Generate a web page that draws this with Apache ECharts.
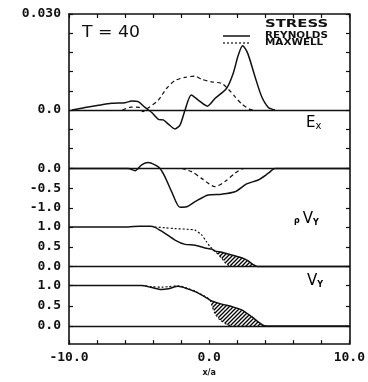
<!DOCTYPE html>
<html>
<head>
<meta charset="utf-8">
<script src="https://cdn.jsdelivr.net/npm/echarts@6/dist/echarts.min.js"></script>
<style>html,body{margin:0;padding:0;background:#fff}#c{width:368px;height:382px}</style>
</head>
<body>
<div id="c"></div>
<script>
// ---- data ----
const X_MIN = -10, X_MAX = 10;
const X_LABEL_VALUES = [-10, 0, 10];

const STRESS_REYNOLDS = [[-9.8,0],[-8.86,0.0008],[-7.9,0.0015],[-6.96,0.0021],[-6.0,0.0023],[-5.54,0.0028],[-5.07,0.0026],[-4.59,0.0008],[-4.11,-0.0008],[-3.64,-0.0029],[-3.29,-0.0031],[-2.93,-0.0044],[-2.46,-0.0059],[-2.1,-0.0047],[-1.74,0],[-1.3,0.0047],[-0.8,0.0031],[-0.15,0.0012],[0.39,0.0036],[1.22,0.0068],[1.69,0.0115],[2.05,0.0172],[2.36,0.0201],[2.72,0.0177],[3.24,0.0104],[3.71,0.0042],[4.19,0.0008],[4.66,0]];
const STRESS_MAXWELL = [[-6.2,0],[-5.6,0.0009],[-5.0,0.0008],[-4.75,-0.0005],[-4.36,0.0006],[-3.64,0.0031],[-3.05,0.0068],[-2.46,0.0092],[-1.74,0.0102],[-1.03,0.0106],[-0.56,0.0096],[0.16,0.0088],[0.87,0.0083],[1.34,0.0065],[1.81,0.0042],[2.29,0.0019],[2.88,0.0002],[3.2,0]];
const STRESS_TICKS = [-0.012,-0.006,0,0.006,0.012,0.018,0.024,0.03];
const STRESS_LABEL_VALUES = [0.03, 0];
const STRESS_LABELS = ['0.030', '0.0'];

const EX_SOLID = [[-10,0],[-5.78,0],[-5.3,-0.055],[-4.83,0.09],[-4.36,0.15],[-3.88,0.09],[-3.52,0],[-3.17,-0.21],[-2.69,-0.59],[-2.1,-0.98],[-1.63,-0.97],[-1.03,-0.84],[-0.09,-0.67],[0.87,-0.65],[1.81,-0.59],[2.64,-0.39],[3.47,-0.29],[4.19,-0.12],[4.66,0],[10,0]];
const EX_DASHED = [[-1.98,0],[-1.27,-0.08],[-0.56,-0.25],[0.39,-0.46],[1.1,-0.33],[1.81,-0.12],[2.29,-0.01],[2.5,0]];
const EX_TICKS = [0, -0.5, -1.0];
const EX_LABELS = ['0.0', '-0.5', '-1.0'];

const RHOVY_SOLID = [[-10,1],[-5.8,1],[-5.0,1.02],[-4.2,1.02],[-3.88,0.99],[-3.17,0.84],[-2.46,0.67],[-1.74,0.56],[-1.03,0.54],[-0.32,0.47],[0.16,0.44],[0.39,0.39],[0.87,0.36],[1.58,0.29],[2.29,0.22],[2.76,0.14],[3.1,0.05],[3.4,0],[10,0]];
const RHOVY_DASHED = [[-3.9,1],[-3.17,0.98],[-2.46,0.96],[-1.5,0.94],[-1.03,0.92],[-0.56,0.8],[-0.2,0.62],[0.04,0.5],[0.39,0.39],[0.87,0.21],[1.22,0.06],[1.6,0]];
const RHOVY_HATCH = [0.39, 3.4];

const VY_SOLID = [[-10,1],[-4.83,1],[-4.11,0.95],[-3.4,0.9],[-2.93,0.92],[-2.22,0.98],[-1.74,0.94],[-1.03,0.85],[-0.32,0.72],[0.04,0.64],[0.16,0.62],[0.87,0.54],[1.58,0.48],[2.29,0.4],[3.0,0.23],[3.71,0.04],[4.07,0],[10,0]];
const VY_DASHED = [[-4.83,1],[-4.11,0.97],[-3.4,0.96],[-2.93,0.97],[-2.22,0.99],[-1.74,0.95],[-1.03,0.86],[-0.32,0.73],[0.04,0.64],[0.16,0.52],[0.39,0.31],[0.75,0.15],[1.22,0.04],[1.58,0]];
const VY_HATCH = [0.04, 4.07];

const UNIT_TICKS = [1.0, 0.5, 0];
const UNIT_LABELS = ['1.0', '0.5', '0.0'];

// ---- rendering ----
const INK = '#111';
const MONO = 'DejaVu Sans Mono';
const hatchCanvas = (() => {
  const c = document.createElement('canvas'); c.width = 4; c.height = 4;
  const g = c.getContext('2d'); g.strokeStyle = '#000'; g.lineWidth = 1.3;
  g.beginPath();
  g.moveTo(0, 4); g.lineTo(4, 0);
  g.moveTo(-1, 1); g.lineTo(1, -1);
  g.moveTo(3, 5); g.lineTo(5, 3);
  g.stroke();
  return c;
})();
const hatchFill = { image: hatchCanvas, repeat: 'repeat' };

const L = 69, R = 18;
const panels = [
  { top: 14, height: 134.4, min: -0.012, max: 0.03, ticks: STRESS_TICKS, lv: STRESS_LABEL_VALUES, lt: STRESS_LABELS },
  { top: 168.5, height: 39.5, min: -1, max: 0, ticks: EX_TICKS, lv: EX_TICKS, lt: EX_LABELS },
  { top: 227, height: 39.5, min: 0, max: 1, ticks: UNIT_TICKS, lv: UNIT_TICKS, lt: UNIT_LABELS },
  { top: 285.5, height: 40.5, min: 0, max: 1, ticks: UNIT_TICKS, lv: UNIT_TICKS, lt: UNIT_LABELS }
];

const grid = [{ left: L, right: R, top: 14, bottom: 34 }].concat(
  panels.map(p => ({ left: L, right: R, top: p.top, height: p.height })));

const frameLine = { show: true, onZero: false, lineStyle: { color: INK, width: 1.6 } };
const xAxis = [
  { gridIndex: 0, type: 'value', min: X_MIN, max: X_MAX, interval: 2, position: 'bottom',
    axisLine: frameLine,
    axisTick: { inside: true, length: 4, lineStyle: { color: INK, width: 1.2 } },
    splitLine: { show: false },
    axisLabel: { customValues: X_LABEL_VALUES, formatter: v => v.toFixed(1), color: INK,
      fontFamily: MONO, fontWeight: 'bold', fontSize: 13, margin: 7 },
    name: 'x/a', nameLocation: 'middle', nameGap: 23,
    nameTextStyle: { color: INK, fontFamily: 'DejaVu Sans', fontWeight: 'bold', fontSize: 8 } },
  { gridIndex: 0, type: 'value', min: X_MIN, max: X_MAX, interval: 2, position: 'top',
    axisLine: frameLine,
    axisTick: { inside: true, length: 4, lineStyle: { color: INK, width: 1.2 } },
    splitLine: { show: false }, axisLabel: { show: false } }
].concat(panels.map((p, i) => ({ gridIndex: i + 1, type: 'value', min: X_MIN, max: X_MAX, show: false })));

const yAxis = [
  { gridIndex: 0, type: 'value', min: 0, max: 1, position: 'left',
    axisLine: frameLine, axisTick: { show: false },
    axisLabel: { show: false }, splitLine: { show: false } },
  { gridIndex: 0, type: 'value', min: 0, max: 1, position: 'right',
    axisLine: frameLine, axisTick: { show: false },
    axisLabel: { show: false }, splitLine: { show: false } }
];
panels.forEach((p, i) => {
  const fmt = v => { const k = p.lv.findIndex(t => Math.abs(t - v) < 1e-9); return k >= 0 ? p.lt[k] : ''; };
  yAxis.push({ gridIndex: i + 1, type: 'value', min: p.min, max: p.max, position: 'left',
    axisLine: { show: false, onZero: false },
    axisTick: { show: true, inside: true, length: 4, customValues: p.ticks, lineStyle: { color: INK, width: 1.2 } },
    axisLabel: { customValues: p.lv, formatter: fmt, color: INK, fontFamily: MONO, fontWeight: 'bold', fontSize: 13, margin: 8 },
    splitLine: { show: false } });
  yAxis.push({ gridIndex: i + 1, type: 'value', min: p.min, max: p.max, position: 'right',
    axisLine: { show: false, onZero: false },
    axisTick: { show: true, inside: true, length: 4, customValues: p.ticks, lineStyle: { color: INK, width: 1.2 } },
    axisLabel: { show: false }, splitLine: { show: false } });
});

function lineSeries(data, panel, dashed, dash) {
  return { type: 'line', data, xAxisIndex: panel + 2, yAxisIndex: 2 + panel * 2,
    showSymbol: false, symbol: 'none', smooth: 0.25, clip: false, silent: true, z: 3,
    lineStyle: { color: INK, width: dashed ? 1.2 : 1.5, type: dashed ? dash : 'solid' } };
}
function zeroLine(panel) {
  return { type: 'line', data: [], xAxisIndex: panel + 2, yAxisIndex: 2 + panel * 2, silent: true,
    markLine: { symbol: 'none', silent: true, label: { show: false },
      lineStyle: { color: INK, width: 1.4, type: 'solid' }, data: [{ yAxis: 0 }] } };
}
function hatchSeries(solid, dashed, range, panel) {
  return { type: 'custom', xAxisIndex: panel + 2, yAxisIndex: 2 + panel * 2, data: [[0, 0]],
    silent: true, clip: false, z: 2,
    renderItem: (params, api) => {
      const inR = p => p[0] >= range[0] - 1e-9 && p[0] <= range[1] + 1e-9;
      const up = solid.filter(inR).map(p => api.coord(p));
      const lo = dashed.filter(inR).map(p => api.coord(p)).reverse();
      return { type: 'polygon', shape: { points: up.concat(lo) }, style: { fill: hatchFill, stroke: null } };
    } };
}

const series = [
  zeroLine(0), zeroLine(1), zeroLine(2), zeroLine(3),
  hatchSeries(RHOVY_SOLID, RHOVY_DASHED, RHOVY_HATCH, 2),
  hatchSeries(VY_SOLID, VY_DASHED, VY_HATCH, 3),
  lineSeries(STRESS_REYNOLDS, 0, false),
  lineSeries(STRESS_MAXWELL, 0, true, [4, 3]),
  lineSeries(EX_SOLID, 1, false),
  lineSeries(EX_DASHED, 1, true, [4, 3]),
  lineSeries(RHOVY_SOLID, 2, false),
  lineSeries(RHOVY_DASHED, 2, true, [2, 2]),
  lineSeries(VY_SOLID, 3, false),
  lineSeries(VY_DASHED, 3, true, [2, 2])
];

const bigV = { fontFamily: 'DejaVu Sans', fontSize: 15, color: INK, verticalAlign: 'bottom', lineHeight: 15 };
const smallY = { fontFamily: 'DejaVu Sans', fontSize: 8, fontWeight: 'bold', color: INK, verticalAlign: 'bottom', lineHeight: 15 };
const graphic = [
  { type: 'text', x: 82, y: 33.5, scaleX: 1.15, style: { text: 'T = 40', font: '15px "DejaVu Sans"', fill: INK, textVerticalAlign: 'middle' } },
  { type: 'text', x: 265, y: 24, scaleX: 1.35, style: { text: 'STRESS', font: 'bold 11px "DejaVu Sans"', fill: INK, textVerticalAlign: 'middle' } },
  { type: 'line', shape: { x1: 223, y1: 36, x2: 250, y2: 36 }, style: { stroke: INK, lineWidth: 1.5 } },
  { type: 'line', shape: { x1: 223, y1: 43, x2: 250, y2: 43 }, style: { stroke: INK, lineWidth: 1.2, lineDash: [2, 2] } },
  { type: 'text', x: 265, y: 36, scaleX: 1.3, style: { text: 'REYNOLDS', font: 'bold 8px "DejaVu Sans"', fill: INK, textVerticalAlign: 'middle' } },
  { type: 'text', x: 265, y: 42.5, scaleX: 1.3, style: { text: 'MAXWELL', font: 'bold 8px "DejaVu Sans"', fill: INK, textVerticalAlign: 'middle' } },
  { type: 'text', x: 306, y: 131, style: { text: '{a|E}{b|x}', textVerticalAlign: 'bottom',
      rich: { a: bigV, b: { fontFamily: 'DejaVu Sans', fontSize: 10, color: INK, verticalAlign: 'bottom', lineHeight: 15 } } } },
  { type: 'text', x: 294, y: 227, style: { text: '{p|ρ}{a|V}{b|Y}', textVerticalAlign: 'bottom',
      rich: { p: { fontFamily: 'DejaVu Sans', fontSize: 8, fontWeight: 'bold', color: INK, verticalAlign: 'bottom', lineHeight: 15, padding: [0, 3, 2, 0] }, a: bigV, b: smallY } } },
  { type: 'text', x: 307, y: 289, style: { text: '{a|V}{b|Y}', textVerticalAlign: 'bottom',
      rich: { a: bigV, b: smallY } } }
];

const chart = echarts.init(document.getElementById('c'), null, { renderer: 'canvas' });
chart.setOption({ backgroundColor: '#fff', animation: false, grid, xAxis, yAxis, series, graphic });
</script>
</body>
</html>
